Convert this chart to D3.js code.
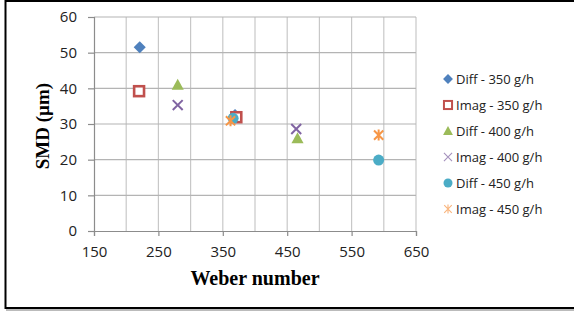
<!DOCTYPE html>
<html>
<head>
<meta charset="utf-8">
<script src="https://cdn.jsdelivr.net/npm/d3@7"></script>
<style>
body { margin: 0; background: #fff; }
</style>
</head>
<body>
<script>
// chart data
var seriesNames = ["Diff - 350 g/h", "Imag - 350 g/h", "Diff - 400 g/h", "Imag - 400 g/h", "Diff - 450 g/h", "Imag - 450 g/h"];
var seriesShapes = ["diamond", "square", "triangle", "cross", "circle", "star"];
var seriesColors = ["#4F81BD", "#C0504D", "#9BBB59", "#8064A2", "#4BACC6", "#F79646"];
var diff350 = [[221, 51.5], [369, 32.5]];
var imag350 = [[220, 39.2], [371, 31.9]];
var diff400 = [[280, 41], [466, 26]];
var imag400 = [[280, 35.3], [464, 28.6]];
var diff450 = [[366, 31.6], [592, 19.9]];
var imag450 = [[362, 30.9], [592, 26.9]];
var allSeries = [diff350, imag350, diff400, imag400, diff450, imag450];
var xTicks = [150, 250, 350, 450, 550, 650];
var yTicks = [0, 10, 20, 30, 40, 50, 60];

var width = 574, height = 312;

var svg = d3.select("body").append("svg")
	.attr("width", width)
	.attr("height", height);

// outer frame (left, top, bottom only)
svg.append("rect").attr("x", 6).attr("y", 309).attr("width", 568).attr("height", 2).attr("fill", "#bbb");
svg.append("path")
	.attr("d", "M574,1 H5.5 V308 H574")
	.attr("fill", "none")
	.attr("stroke", "#000")
	.attr("stroke-width", 2);

var x = d3.scaleLinear().domain([150, 650]).range([94, 416]);
var y = d3.scaleLinear().domain([0, 60]).range([231, 17]);

// gridlines
svg.append("g").selectAll("line")
	.data(d3.range(200, 651, 50))
	.enter().append("line")
	.attr("x1", d => x(d)).attr("x2", d => x(d))
	.attr("y1", y(0)).attr("y2", y(60))
	.attr("stroke", "#c8c8c8").attr("stroke-width", 1.2);
svg.append("g").selectAll("line")
	.data(yTicks.slice(1))
	.enter().append("line")
	.attr("x1", x(150)).attr("x2", x(650))
	.attr("y1", d => y(d)).attr("y2", d => y(d))
	.attr("stroke", "#b4b4b4").attr("stroke-width", 1.2);

// axes
var xAxis = svg.append("g")
	.attr("transform", "translate(0," + y(0) + ")")
	.call(d3.axisBottom(x).tickValues(xTicks).tickSize(5).tickPadding(10));
var yAxis = svg.append("g")
	.attr("transform", "translate(" + x(150) + ",0)")
	.call(d3.axisLeft(y).tickValues(yTicks).tickSize(6).tickPadding(11));
[xAxis, yAxis].forEach(function(a) {
	a.select(".domain").attr("stroke", "#8c8c8c").attr("stroke-width", 1.2);
	a.selectAll(".tick line").attr("stroke", "#8c8c8c").attr("stroke-width", 1.2);
	a.selectAll("text")
		.attr("font-family", "'Open Sans', sans-serif")
		.attr("font-size", 15)
		.attr("fill", "#222");
});

// axis titles
svg.append("text")
	.attr("x", 255).attr("y", 285)
	.attr("text-anchor", "middle")
	.attr("font-family", "'Liberation Serif', serif")
	.attr("font-weight", "bold")
	.attr("font-size", 20)
	.text("Weber number");
svg.append("text")
	.attr("transform", "translate(49,126) rotate(-90)")
	.attr("text-anchor", "middle")
	.attr("font-family", "'Liberation Serif', serif")
	.attr("font-weight", "bold")
	.attr("font-size", 19)
	.text("SMD (\u00b5m)");

// marker drawing
function drawMarker(g, shape, color, s, legend) {
	if (shape == "diamond") {
		g.append("path").attr("d", "M0," + (-s * 0.55) + " L" + (s * 0.55) + ",0 L0," + (s * 0.55) + " L" + (-s * 0.55) + ",0Z").attr("fill", color);
	} else if (shape == "square") {
		var h = s * 0.45;
		g.append("rect").attr("x", -h).attr("y", -h).attr("width", 2 * h).attr("height", 2 * h)
			.attr("fill", "#fff").attr("stroke", color).attr("stroke-width", legend ? 2 : 2.6);
	} else if (shape == "triangle") {
		g.append("path").attr("d", "M0," + (-s * 0.55) + " L" + (s * 0.55) + "," + (s * 0.45) + " L" + (-s * 0.55) + "," + (s * 0.45) + "Z").attr("fill", color);
	} else if (shape == "cross") {
		var c = s * 0.45;
		g.append("path").attr("d", "M" + (-c) + "," + (-c) + " L" + c + "," + c + " M" + c + "," + (-c) + " L" + (-c) + "," + c)
			.attr("stroke", color).attr("stroke-width", legend ? 1.1 : 2).attr("opacity", legend ? 0.7 : 1);
	} else if (shape == "circle") {
		g.append("circle").attr("r", s * 0.5).attr("fill", color);
	} else if (shape == "star") {
		var c2 = s * 0.42;
		g.append("path").attr("d", "M" + (-c2) + "," + (-c2) + " L" + c2 + "," + c2 + " M" + c2 + "," + (-c2) + " L" + (-c2) + "," + c2 + " M0," + (-s * 0.5) + " L0," + (s * 0.5))
			.attr("stroke", color).attr("stroke-width", legend ? 1.1 : 2).attr("opacity", legend ? 0.7 : 1);
	}
}

// points
allSeries.forEach(function(data, i) {
	svg.append("g").selectAll("g")
		.data(data)
		.enter().append("g")
		.attr("transform", d => "translate(" + x(d[0]) + "," + y(d[1]) + ")")
		.each(function() { drawMarker(d3.select(this), seriesShapes[i], seriesColors[i], 11, false); });
});

// legend
var legend = svg.append("g").selectAll("g")
	.data(seriesNames)
	.enter().append("g")
	.attr("transform", (d, i) => "translate(448," + (79 + i * 26) + ")");
legend.each(function(d, i) { drawMarker(d3.select(this), seriesShapes[i], seriesColors[i], 9, true); });
legend.append("text")
	.attr("x", 8).attr("y", 5)
	.attr("font-family", "'Open Sans', sans-serif")
	.attr("font-size", 13)
	.attr("fill", "#222")
	.text(d => d);
</script>
</body>
</html>
